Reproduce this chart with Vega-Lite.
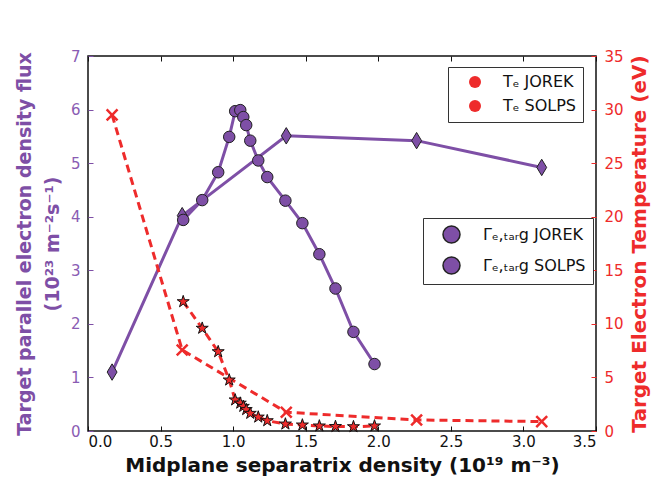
{
  "$schema": "https://vega.github.io/schema/vega-lite/v6.json",
  "width": 508,
  "height": 375,
  "autosize": {"type": "none"},
  "padding": {"left": 88, "top": 56, "right": 64, "bottom": 51},
  "config": {
    "font": "DejaVu Sans",
    "view": {"stroke": "#111", "strokeWidth": 1.5},
    "axis": {"grid": false, "domain": false, "labelFont": "DejaVu Sans", "titleFont": "DejaVu Sans"},
    "legend": {"labelFont": "DejaVu Sans", "labelFontSize": 16, "labelColor": "#111", "strokeColor": "#333", "fillColor": "white", "padding": 7, "cornerRadius": 0, "orient": "none"}
  },
  "data": {
    "values": [
      {"model": "JOREK", "x": 0.166, "flux": 1.10, "te": 29.5},
      {"model": "JOREK", "x": 0.649, "flux": 4.02, "te": 7.56},
      {"model": "JOREK", "x": 1.366, "flux": 5.51, "te": 1.75},
      {"model": "JOREK", "x": 2.264, "flux": 5.42, "te": 1.03},
      {"model": "JOREK", "x": 3.126, "flux": 4.92, "te": 0.88},
      {"model": "SOLPS", "x": 0.656, "flux": 3.94, "te": 12.07},
      {"model": "SOLPS", "x": 0.787, "flux": 4.31, "te": 9.59},
      {"model": "SOLPS", "x": 0.897, "flux": 4.83, "te": 7.40},
      {"model": "SOLPS", "x": 0.973, "flux": 5.49, "te": 4.76},
      {"model": "SOLPS", "x": 1.014, "flux": 5.97, "te": 2.9},
      {"model": "SOLPS", "x": 1.049, "flux": 5.99, "te": 2.6},
      {"model": "SOLPS", "x": 1.070, "flux": 5.86, "te": 2.3},
      {"model": "SOLPS", "x": 1.090, "flux": 5.71, "te": 2.0},
      {"model": "SOLPS", "x": 1.118, "flux": 5.42, "te": 1.65},
      {"model": "SOLPS", "x": 1.173, "flux": 5.05, "te": 1.3},
      {"model": "SOLPS", "x": 1.235, "flux": 4.74, "te": 0.96},
      {"model": "SOLPS", "x": 1.360, "flux": 4.30, "te": 0.65},
      {"model": "SOLPS", "x": 1.477, "flux": 3.88, "te": 0.56},
      {"model": "SOLPS", "x": 1.594, "flux": 3.30, "te": 0.47},
      {"model": "SOLPS", "x": 1.705, "flux": 2.66, "te": 0.42},
      {"model": "SOLPS", "x": 1.829, "flux": 1.85, "te": 0.40},
      {"model": "SOLPS", "x": 1.974, "flux": 1.25, "te": 0.47}
    ]
  },
  "layer": [
    {
      "layer": [
        {
          "mark": {"type": "line", "color": "#7e4fa6", "strokeWidth": 3},
          "encoding": {
            "x": {"field": "x", "type": "quantitative", "scale": {"domain": [0, 3.5], "nice": false, "zero": false},
              "axis": {"orient": "bottom", "values": [0, 0.5, 1, 1.5, 2, 2.5, 3, 3.5], "format": ".1f", "title": "Midplane separatrix density (10¹⁹ m⁻³)", "titleFontSize": 20, "titleFontWeight": "bold", "titleColor": "#111", "titlePadding": 6, "labelFontSize": 15, "labelColor": "#111", "tickColor": "#111", "tickSize": -5, "labelPadding": 8}},
            "y": {"field": "flux", "type": "quantitative", "scale": {"domain": [0, 7], "nice": false},
              "axis": {"orient": "left", "values": [0, 1, 2, 3, 4, 5, 6, 7], "format": "d", "title": ["Target parallel electron density flux", "(10²³ m⁻²s⁻¹)"], "titleFontSize": 19, "titleFontWeight": "bold", "titleColor": "#7e4fa6", "titleLineHeight": 28, "titlePadding": 8, "labelFontSize": 15, "labelColor": "#8a5cb3", "tickColor": "#7e4fa6", "tickSize": -5, "labelPadding": 13}},
            "detail": {"field": "model", "type": "nominal"}
          }
        },
        {
          "mark": {"type": "point", "filled": true, "stroke": "#222", "strokeWidth": 1, "opacity": 1, "size": 270},
          "encoding": {
            "x": {"field": "x", "type": "quantitative"},
            "y": {"field": "flux", "type": "quantitative"},
            "shape": {"field": "model", "type": "nominal", "legend": null,
              "scale": {"range": ["M0,-1 L0.6,0 L0,1 L-0.6,0 Z", "M0.7,0 A0.7,0.7 0 1 1 -0.7,0 A0.7,0.7 0 1 1 0.7,0 Z"]}},
            "fill": {"field": "model", "type": "nominal",
              "scale": {"domain": ["JOREK", "SOLPS"], "range": ["#7e4fa6", "#7e4fa6"]},
              "legend": {"title": null, "legendX": 335, "legendY": 162, "symbolSize": 289, "symbolOffset": 12, "labelOffset": 22, "rowPadding": 8,
                "labelExpr": "'Γₑ,ₜₐᵣg ' + datum.label",
                "encode": {"symbols": {
                  "shape": {"value": {"expr": "datum.value === 'JOREK' ? 'M-2.25,0 L-1.65,-1 L-1.122,-0.12 L1.122,-0.12 L1.65,-1 L2.25,0 L1.65,1 L1.122,0.12 L-1.122,0.12 L-1.65,1 Z' : 'M-0.84,-0.12 L0.84,-0.12 A0.7,0.7 0 1 1 0.84,0.12 L-0.84,0.12 A0.7,0.7 0 1 1 -0.84,-0.12 Z'"}},
                  "stroke": {"value": "#222"}, "strokeWidth": {"value": 1}, "opacity": {"value": 1}
                }}}
            }
          }
        }
      ]
    },
    {
      "layer": [
        {
          "mark": {"type": "line", "color": "#ee2b2b", "strokeWidth": 3, "strokeDash": [8, 5]},
          "encoding": {
            "x": {"field": "x", "type": "quantitative",
              "axis": {"orient": "top", "values": [0, 0.5, 1, 1.5, 2, 2.5, 3, 3.5], "labels": false, "title": null, "tickColor": "#111", "tickSize": -5}},
            "y": {"field": "te", "type": "quantitative", "scale": {"domain": [0, 35], "nice": false},
              "axis": {"orient": "right", "values": [0, 5, 10, 15, 20, 25, 30, 35], "format": "d", "title": "Target Electron Temperature (eV)", "titleAngle": -90, "titleFontSize": 20, "titleFontWeight": "bold", "titleColor": "#ee2b2b", "titlePadding": 26, "labelFontSize": 15, "labelColor": "#ee2b2b", "tickColor": "#ee2b2b", "tickSize": -5, "labelPadding": 13}},
            "detail": {"field": "model", "type": "nominal"}
          }
        },
        {
          "mark": {"type": "point", "filled": true, "strokeWidth": 1, "opacity": 1, "size": 160},
          "encoding": {
            "x": {"field": "x", "type": "quantitative"},
            "y": {"field": "te", "type": "quantitative"},
            "stroke": {"condition": {"test": "datum.model === 'SOLPS'", "value": "#111"}, "value": "transparent"},
            "shape": {"field": "model", "type": "nominal", "legend": null,
              "scale": {"range": ["M-1,-0.72 L-0.72,-1 L0,-0.28 L0.72,-1 L1,-0.72 L0.28,0 L1,0.72 L0.72,1 L0,0.28 L-0.72,1 L-1,0.72 L-0.28,0 Z", "M0,-1 L0.225,-0.309 L0.951,-0.309 L0.363,0.118 L0.588,0.809 L0,0.382 L-0.588,0.809 L-0.363,0.118 L-0.951,-0.309 L-0.225,-0.309 Z"]}},
            "fill": {"field": "model", "type": "nominal",
              "scale": {"domain": ["JOREK", "SOLPS"], "range": ["#ee2b2b", "#ee2b2b"]},
              "legend": {"title": null, "legendX": 360, "legendY": 11, "symbolSize": 144, "symbolOffset": 12, "labelOffset": 20, "rowPadding": 6,
                "labelExpr": "'Tₑ ' + datum.label",
                "encode": {"symbols": {
                  "shape": {"value": {"expr": "datum.value === 'JOREK' ? 'M-2.95,-0.7 L-2.65,-1 L-1.95,-0.3 L-1.25,-1 L-0.95,-0.7 L-1.65,0 L-0.95,0.7 L-1.25,1 L-1.95,0.3 L-2.65,1 L-2.95,0.7 L-2.25,0 Z M0.95,-0.7 L1.25,-1 L1.95,-0.3 L2.65,-1 L2.95,-0.7 L2.25,0 L2.95,0.7 L2.65,1 L1.95,0.3 L1.25,1 L0.95,0.7 L1.65,0 Z' : 'M-1.95,-1 L-1.725,-0.309 L-0.999,-0.309 L-1.587,0.118 L-1.362,0.809 L-1.95,0.382 L-2.538,0.809 L-2.313,0.118 L-2.901,-0.309 L-2.175,-0.309 Z M1.95,-1 L2.175,-0.309 L2.901,-0.309 L2.313,0.118 L2.538,0.809 L1.95,0.382 L1.362,0.809 L1.587,0.118 L0.999,-0.309 L1.725,-0.309 Z'"}},
                  "stroke": {"value": {"expr": "datum.value === 'JOREK' ? 'transparent' : '#111'"}},
                  "strokeWidth": {"value": 1}, "opacity": {"value": 1}
                }}}
            }
          }
        }
      ]
    }
  ],
  "resolve": {
    "scale": {"y": "independent", "shape": "independent", "stroke": "independent", "fill": "independent"},
    "axis": {"x": "independent"},
    "legend": {"fill": "independent", "shape": "independent"}
  }
}
